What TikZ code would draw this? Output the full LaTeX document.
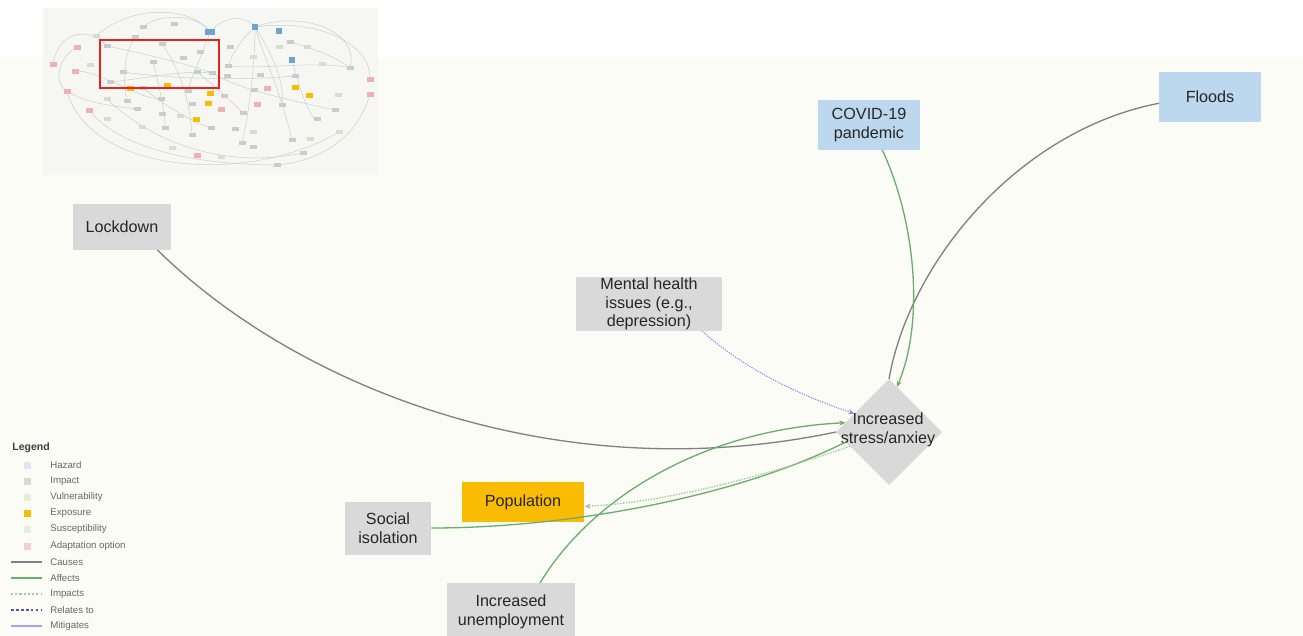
\documentclass[tikz,border=0pt]{standalone}
\usepackage{fontspec}
\setmainfont{Liberation Sans}
\usetikzlibrary{shapes.geometric,arrows.meta}

\definecolor{impactgray}{HTML}{D9D9D9}
\definecolor{hazardblue}{HTML}{BDD7EE}
\definecolor{exposureorange}{HTML}{F9BC02}
\definecolor{causesline}{HTML}{808080}
\definecolor{affectsline}{HTML}{6BAE6B}
\definecolor{impactsline}{HTML}{A3CBA3}
\definecolor{relatesline}{HTML}{8A8ADB}
\definecolor{relatesdash}{HTML}{5555A8}
\definecolor{mitigatesline}{HTML}{A4A4EC}
\definecolor{panelbg}{HTML}{FCFCF7}
\definecolor{mapbg}{HTML}{F6F7F3}
\definecolor{mapline}{HTML}{CDD2CC}
\definecolor{mapgray}{HTML}{CBCBCB}
\definecolor{mapgreen}{HTML}{CFE3C8}
\definecolor{mappink}{HTML}{F0AEB5}
\definecolor{mapblue}{HTML}{69A6D6}
\definecolor{legendtext}{HTML}{666666}
\definecolor{keyblue}{HTML}{DCE6F5}
\definecolor{keygreen}{HTML}{E3EFDC}
\definecolor{keypink}{HTML}{F6CFD3}
\definecolor{framered}{HTML}{E8231F}

\begin{document}
\begin{tikzpicture}[x=0.02cm,y=-0.02cm,
  box/.style={rectangle,inner sep=0pt,outer sep=0pt,align=center,
    font=\fontsize{9.2}{10.6}\selectfont,text=black!85},
  impact/.style={box,fill=impactgray},
  hazard/.style={box,fill=hazardblue},
  exposure/.style={box,fill=exposureorange},
  causes/.style={draw=causesline,line width=0.75pt},
  affects/.style={draw=affectsline,line width=0.75pt},
  impacts/.style={draw=impactsline,line width=0.8pt,dash pattern=on 0.8pt off 0.8pt},
  relates/.style={draw=relatesline,line width=0.6pt,dash pattern=on 0.7pt off 0.7pt},
  tip/.style={-{Stealth[length=3.5pt,width=3pt]}},
  mapline/.style={draw=mapline,line width=0.3pt},
  keytext/.style={anchor=west,inner sep=0pt,font=\fontsize{5.5}{6}\selectfont,text=legendtext}]

  \useasboundingbox (0,0) rectangle (1303,636);
  \clip (0,0) rectangle (1303,636);
  \fill[white] (0,0) rectangle (1303,636);
  \fill[panelbg] (0,58) rectangle (1303,636);

  % overview map
  \fill[mapbg] (43,8) rectangle (378,175);
  \foreach \ax/\ay/\bx/\by/\cx/\cy/\dx/\dy in {
    96/36/130/5/190/5/210/32, 143/27/160/12/200/15/210/32,
    210/32/225/15/245/15/255/27, 255/27/320/18/372/45/370/79,
    255/27/300/10/360/30/350/68, 67/91/90/175/250/185/339/132,
    53/64/60/25/95/30/107/46, 77/47/55/60/55/85/67/91,
    89/110/120/150/200/165/277/165, 107/46/150/55/190/65/212/73,
    110/82/150/78/180/70/212/73, 123/72/180/80/250/80/295/76,
    255/27/255/60/250/110/242/143, 255/27/265/60/280/90/292/140,
    255/27/270/50/285/80/282/105, 255/27/240/40/232/55/228/66,
    212/73/240/90/290/100/335/110, 153/62/160/90/165/110/165/128,
    135/37/120/60/125/90/127/101, 162/44/180/70/190/100/192/135,
    210/32/200/60/190/80/188/91, 107/99/150/140/220/170/303/153,
    370/94/360/130/330/160/277/165, 75/71/100/70/140/100/161/99,
    292/60/300/90/310/120/317/119, 228/66/260/70/320/60/350/68,
    67/91/80/100/100/105/137/109, 197/72/220/90/240/110/243/113,
    143/88/170/110/200/125/211/128, 290/42/320/50/340/60/350/68}
    \draw[mapline] (\ax,\ay) .. controls (\bx,\by) and (\cx,\cy) .. (\dx,\dy);
  \foreach \x/\y in {143/27, 174/24, 135/37, 162/44, 200/52, 107/46, 153/62,
    183/58, 123/72, 197/72, 212/73, 110/82, 143/88, 188/91, 161/99, 127/101,
    137/109, 192/104, 224/96, 230/47, 228/66, 227/76, 260/75, 254/90, 290/42,
    295/76, 350/68, 335/110, 317/119, 282/105, 243/113, 235/129, 211/128,
    162/114, 165/128, 192/135, 242/143, 253/147, 292/140, 303/153, 277/165}
    \fill[mapgray] (\x-3.5,\y-2) rectangle (\x+3.5,\y+2);
  \foreach \x/\y in {96/36, 90/65, 107/99, 107/119, 142/127, 172/148, 221/157,
    180/116, 279/47, 307/47, 322/64, 338/95, 339/132, 310/139, 253/132, 253/57}
    \fill[mapgreen] (\x-3.5,\y-2) rectangle (\x+3.5,\y+2);
  \foreach \x/\y in {77/47, 53/64, 75/71, 67/91, 89/110, 221/109, 257/104,
    267/88, 370/79, 370/94, 197/155}
    \fill[mappink] (\x-3.5,\y-2.5) rectangle (\x+3.5,\y+2.5);
  \foreach \x/\y in {130/88, 167/85, 210/93, 208/103, 196/119, 295/87, 309/95}
    \fill[exposureorange] (\x-3.5,\y-2.5) rectangle (\x+3.5,\y+2.5);
  \fill[mapblue] (205,29) rectangle (215,35);
  \foreach \x/\y in {255/27, 279/31, 292/60}
    \fill[mapblue] (\x-3,\y-3) rectangle (\x+3,\y+3);
  \draw[framered,line width=1.1pt] (100,40) rectangle (219,88);

  \draw (122,227) node[impact,minimum width=1.96cm,minimum height=0.92cm] (lockdown) {Lockdown};
  \draw (869,125) node[hazard,minimum width=2.04cm,minimum height=1.0cm] (covid) {COVID-19\\pandemic};
  \draw (1210,97) node[hazard,minimum width=2.04cm,minimum height=1.0cm] (floods) {Floods};
  \draw (649,304) node[impact,minimum width=2.94cm,minimum height=1.08cm] (mental) {Mental health\\issues (e.g.,\\depression)};
  \draw (889,432) node[diamond,fill=impactgray,inner sep=0pt,outer sep=0pt,
    minimum width=2.12cm,minimum height=2.12cm] (stress) {};
  \draw (888,430) node[box] (stresslabel) {Increased\\stress/anxiey};
  \draw (523,502) node[exposure,minimum width=2.46cm,minimum height=0.8cm] (population) {Population};
  \draw (388,528) node[impact,minimum width=1.74cm,minimum height=1.06cm] (social) {Social\\isolation};
  \draw (511,612) node[impact,minimum width=2.56cm,minimum height=1.16cm] (unemployment) {Increased\\unemployment};

  \draw[causes] (lockdown.-33) .. controls (300,390) and (560,490) .. (stress.west);
  \draw[causes] (floods.187) .. controls (1020,130) and (910,260) .. (stress.north);
  \draw[affects,tip] (covid.-62) .. controls (915,220) and (925,320) .. (stress.80);
  \draw[relates,tip] (mental.-27) .. controls (740,365) and (790,392) .. (stress.152);
  \draw[affects,tip] (unemployment.45) .. controls (590,500) and (700,430) .. (stress.168);
  \draw[affects] (social.east) .. controls (560,528) and (730,500) .. (stress.193);
  \draw[impacts,tip] (stress.200) .. controls (760,478) and (660,503) .. (population.-4);

  % legend
  \draw (12,448) node[anchor=west,inner sep=0pt,font=\bfseries\fontsize{6}{7}\selectfont,text=black!75] (legend) {Legend};
  \foreach \y/\c/\t in {465/keyblue/Hazard, 481/impactgray/Impact,
    497/keygreen/Vulnerability, 513/exposureorange/Exposure,
    529/keygreen/Susceptibility, 546/keypink/Adaptation option}{
    \fill[\c] (24,\y-3.5) rectangle (31,\y+3.5);
    \draw (50,\y) node[keytext] {\t};
  }
  \draw[causesline,line width=0.7pt] (11,562) -- (42,562);
  \draw (50,562) node[keytext] {Causes};
  \draw[affectsline,line width=0.7pt] (11,578) -- (42,578);
  \draw (50,578) node[keytext] {Affects};
  \draw[impactsline,line width=0.7pt,dash pattern=on 1.2pt off 1.2pt] (11,594) -- (42,594);
  \draw (50,594) node[keytext] {Impacts};
  \draw[relatesdash,line width=0.6pt,dash pattern=on 1.6pt off 1.2pt] (11,610) -- (42,610);
  \draw (50,610) node[keytext] {Relates to};
  \draw[mitigatesline,line width=0.9pt] (11,626) -- (42,626);
  \draw (50,626) node[keytext] {Mitigates};

\end{tikzpicture}
\end{document}
